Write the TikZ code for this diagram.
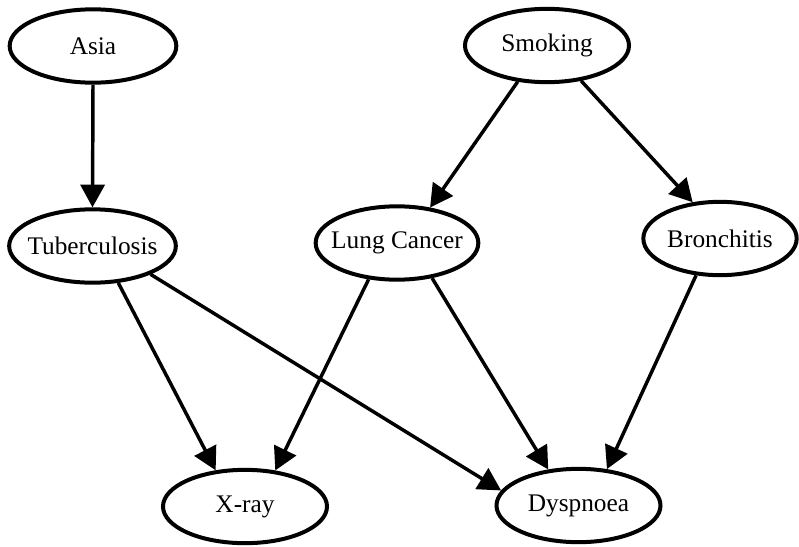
\documentclass[tikz,border=0pt]{standalone}
\usepackage{fontspec}
\setmainfont{Liberation Serif}
\usetikzlibrary{shapes.geometric,arrows.meta}
\begin{document}
\begin{tikzpicture}[x=0.75pt,y=-0.75pt,
  varnode/.style={ellipse,draw,line width=3pt,inner sep=0pt,
    minimum height=55pt,
    label={[font=\fontsize{19}{23}\selectfont]center:#1}},
  edge/.style={line width=2.6pt,-{Triangle[length=17pt,width=18pt]}}]
\useasboundingbox (0,0) rectangle (799,546);
\node[varnode=Asia,minimum width=125pt] (asia) at (93,46) {};
\node[varnode=Smoking,minimum width=123pt] (smoke) at (547,45.5) {};
\node[varnode=Tuberculosis,minimum width=125pt] (tb) at (92.5,246) {};
\node[varnode=Lung Cancer,minimum width=122pt] (lc) at (397,243) {};
\node[varnode=Bronchitis,minimum width=115pt] (br) at (720,238.5) {};
\node[varnode=X-ray,minimum width=123pt] (xr) at (245,506.5) {};
\node[varnode=Dyspnoea,minimum width=123pt] (dy) at (578.5,505.5) {};
\draw[edge] (asia.south) -- (tb.north);
\draw[edge] (smoke.231.9) -- (lc.47.4);
\draw[edge] (smoke.314.6) -- (br.127.9);
\draw[edge] (tb.305.9) -- (xr.129.4);
\draw[edge] (tb.334.4) -- (dy.169.2);
\draw[edge] (lc.232.3) -- (xr.50.6);
\draw[edge] (lc.315.8) -- (dy.130);
\draw[edge] (br.237) -- (dy.52.8);
\end{tikzpicture}
\end{document}
